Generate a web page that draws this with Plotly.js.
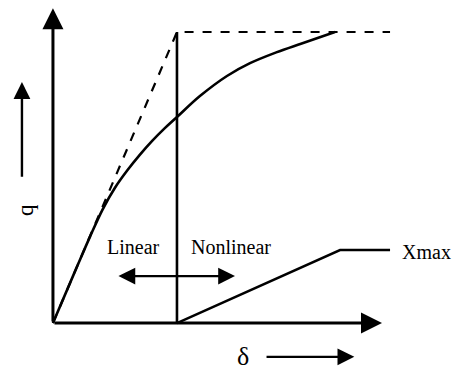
<!DOCTYPE html>
<html>
<head>
<meta charset="utf-8">
<script src="https://cdn.plot.ly/plotly-3.0.1.min.js"></script>
<style>html,body{margin:0;padding:0;background:#fff;}#chart{width:458px;height:372px;}</style>
</head>
<body>
<div id="chart"></div>
<script>
// Load-deformation curve (normalised: delta / delta_yield, q / q_max)
const curveDelta = [0, 0.2, 0.3, 0.4, 0.5, 0.6, 0.7, 0.8, 0.9, 1.0, 1.185, 1.403, 1.589, 1.8, 2.0, 2.274];
const curveQ     = [0, 0.2, 0.298, 0.39, 0.465, 0.525, 0.578, 0.626, 0.669, 0.708, 0.780, 0.849, 0.893, 0.93, 0.96, 1.0];
// Elastic-perfectly-plastic idealisation (dashed)
const idealDelta = [0, 1.0, 2.718];
const idealQ     = [0, 1.0, 1.0];
// Linear / nonlinear boundary
const boundaryDelta = [1.0, 1.0];
const boundaryQ     = [0, 1.0];
// Xmax line
const xmaxDelta = [1.0, 2.315, 2.718];
const xmaxQ     = [0, 0.251, 0.251];
// Labels
const labels = {linear: "Linear", nonlinear: "Nonlinear", xmax: "Xmax", q: "q", delta: "δ"};

const black = "#000";
const font = {family: "Liberation Serif, Times New Roman, serif", size: 20, color: black};

const traces = [
  {x: idealDelta, y: idealQ, mode: "lines", line: {color: black, width: 2.2, dash: "dash"}, hoverinfo: "skip"},
  {x: boundaryDelta, y: boundaryQ, mode: "lines", line: {color: black, width: 2.6}, hoverinfo: "skip"},
  {x: curveDelta, y: curveQ, mode: "lines", line: {color: black, width: 2.6, shape: "spline", smoothing: 1}, hoverinfo: "skip"},
  {x: xmaxDelta, y: xmaxQ, mode: "lines", line: {color: black, width: 2.4}, hoverinfo: "skip"}
];

function arrow(x0, y0, x1, y1, w, extra) {
  return Object.assign({
    x: x1, y: y1, ax: x0, ay: y0, xref: "x", yref: "y", axref: "x", ayref: "y",
    text: "", showarrow: true, arrowhead: 2, arrowsize: 1.4, arrowwidth: w, arrowcolor: black
  }, extra || {});
}

const annotations = [
  arrow(0, 0, 0, 1.082, 3),
  arrow(0, 0, 2.653, 0, 3),
  arrow(0.516, 0.1615, 1.468, 0.1615, 2.4, {arrowside: "end+start"}),
  arrow(-0.25, 0.498, -0.25, 0.828, 2.4),
  arrow(1.71, -0.116, 2.43, -0.116, 2.4),
  {x: 0.653, y: 0.261, xref: "x", yref: "y", text: labels.linear, showarrow: false, font: font},
  {x: 1.435, y: 0.261, xref: "x", yref: "y", text: labels.nonlinear, showarrow: false, font: font},
  {x: 3.015, y: 0.245, xref: "x", yref: "y", text: labels.xmax, showarrow: false, font: font},
  {x: -0.226, y: 0.388, xref: "x", yref: "y", text: labels.q, showarrow: false, textangle: -90, font: Object.assign({}, font, {size: 23})},
  {x: 1.53, y: -0.115, xref: "x", yref: "y", text: labels.delta, showarrow: false, font: Object.assign({}, font, {size: 26})}
];

const layout = {
  width: 458, height: 372,
  margin: {l: 0, r: 0, t: 0, b: 0},
  paper_bgcolor: "#fff", plot_bgcolor: "#fff",
  showlegend: false,
  xaxis: {range: [-0.427, 3.266], visible: false, fixedrange: true},
  yaxis: {range: [-0.168, 1.110], visible: false, fixedrange: true},
  annotations: annotations
};

Plotly.newPlot("chart", traces, layout, {staticPlot: true, displayModeBar: false});
</script>
</body>
</html>
